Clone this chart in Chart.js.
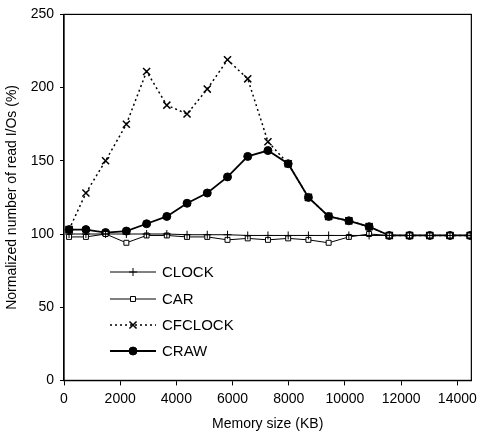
<!DOCTYPE html>
<html>
<head>
<meta charset="utf-8">
<script src="https://cdn.jsdelivr.net/npm/chart.js@4.4.0/dist/chart.umd.min.js"></script>
<style>
  html, body { margin: 0; padding: 0; background: #fff; }
  #wrap { width: 482px; height: 434px; }
</style>
</head>
<body>
<div id="wrap"><canvas id="chart" width="482" height="434"></canvas></div>
<script>
// memory sizes (KB) for each measurement
const memSizes = [180, 780, 1480, 2220, 2940, 3660, 4380, 5100, 5820, 6540, 7260,
	7980, 8700, 9420, 10140, 10860, 11580, 12300, 13020, 13740, 14460];

// normalized read I/Os (%)
const clockData = [100, 100, 100, 100, 100, 100, 99.5, 99.5, 99.5, 99, 99,
	99, 99, 99, 99, 99, 99, 99, 99, 99, 99];
const carData = [98, 98, 100, 94, 99, 99, 98, 98, 96, 97, 96,
	97, 96, 94, 98, 100, 99, 99, 99, 99, 99];
const cfclockData = [103, 128, 150, 175, 211, 188, 182, 199, 219, 206, 163,
	148, 125, 112, 109, 105, 99, 99, 99, 99, 99];
const crawData = [103, 103, 101, 102, 107, 112, 121, 128, 139, 153, 157,
	148, 125, 112, 109, 105, 99, 99, 99, 99, 99];

const xTicks = [0, 2000, 4000, 6000, 8000, 10000, 12000, 14000];
const yTicks = [0, 50, 100, 150, 200, 250];

const FONT = 'Arial, "Liberation Sans", sans-serif';

function toPoints(arr) {
	return arr.map((v, i) => ({ x: memSizes[i], y: v }));
}

// draws the box around the plot area
const frame = {
	id: 'frame',
	afterDraw(chart) {
		const a = chart.chartArea, c = chart.ctx;
		c.save();
		c.strokeStyle = '#000';
		c.lineWidth = 1.2;
		c.strokeRect(a.left, a.top, a.right - a.left, a.bottom - a.top);
		c.restore();
	}
};

// legend inside the plot, lower left
const innerLegend = {
	id: 'innerLegend',
	afterDraw(chart) {
		const c = chart.ctx;
		const x0 = 110, x1 = 156, ys = [272, 299, 325, 351];
		chart.data.datasets.forEach((ds, i) => {
			const y = ys[i];
			const cx = (x0 + x1) / 2;
			c.save();
			c.strokeStyle = '#000';
			c.lineWidth = ds.borderWidth;
			c.setLineDash(ds.borderDash || []);
			c.beginPath(); c.moveTo(x0, y); c.lineTo(x1, y); c.stroke();
			c.setLineDash([]);
			c.fillStyle = ds.pointBackgroundColor || '#000';
			c.lineWidth = ds.pointBorderWidth || 1;
			Chart.helpers.drawPoint(c, {
				pointStyle: ds.pointStyle, rotation: 0, radius: ds.pointRadius,
				borderWidth: ds.pointBorderWidth || 1
			}, cx, y);
			c.fillStyle = '#000';
			c.font = '15px ' + FONT;
			c.textBaseline = 'middle';
			c.fillText(ds.label, 162, y + 1);
			c.restore();
		});
	}
};

new Chart(document.getElementById('chart'), {
	type: 'line',
	data: {
		datasets: [{
			label: 'CLOCK',
			data: toPoints(clockData),
			borderColor: '#000', backgroundColor: '#000',
			borderWidth: 1, pointStyle: 'cross', pointRadius: 4,
			pointBorderColor: '#000', pointBorderWidth: 1
		}, {
			label: 'CAR',
			data: toPoints(carData),
			borderColor: '#000', backgroundColor: '#fff',
			borderWidth: 1, pointStyle: 'rect', pointRadius: 3.5,
			pointBackgroundColor: '#fff', pointBorderColor: '#000', pointBorderWidth: 1
		}, {
			label: 'CFCLOCK',
			data: toPoints(cfclockData),
			borderColor: '#000', backgroundColor: '#000',
			borderWidth: 1.5, borderDash: [2, 3], pointStyle: 'crossRot', pointRadius: 5,
			pointBorderColor: '#000', pointBorderWidth: 1.5
		}, {
			label: 'CRAW',
			data: toPoints(crawData),
			borderColor: '#000', backgroundColor: '#000',
			borderWidth: 1.8, pointStyle: 'circle', pointRadius: 4,
			pointBackgroundColor: '#000', pointBorderColor: '#000', pointBorderWidth: 1
		}]
	},
	options: {
		responsive: false,
		animation: false,
		layout: { padding: { top: 8, right: 3, left: 0, bottom: 0 } },
		plugins: { legend: { display: false }, tooltip: { enabled: false } },
		scales: {
			x: {
				type: 'linear', min: 0, max: 14500,
				afterBuildTicks: s => { s.ticks = xTicks.map(v => ({ value: v })); },
				ticks: { color: '#000', font: { family: FONT, size: 14 }, maxRotation: 0, padding: 5,
					callback: v => String(v) },
				grid: { drawOnChartArea: false, color: '#000', tickLength: 5 },
				border: { color: '#000', width: 1.2 },
				title: { display: true, text: 'Memory size (KB)', color: '#000',
					font: { family: FONT, size: 14 }, padding: { top: 4, bottom: 1 } }
			},
			y: {
				min: 0, max: 250,
				afterBuildTicks: s => { s.ticks = yTicks.map(v => ({ value: v })); },
				ticks: { color: '#000', font: { family: FONT, size: 14 }, padding: 6 },
				grid: { drawOnChartArea: false, color: '#000', tickLength: 4 },
				border: { color: '#000', width: 1.2 },
				title: { display: true, text: 'Normalized number of read I/Os (%)', color: '#000',
					font: { family: FONT, size: 14 }, padding: { bottom: 2 } },
				afterFit: s => { s.width = 64; }
			}
		}
	},
	plugins: [frame, innerLegend]
});
</script>
</body>
</html>
